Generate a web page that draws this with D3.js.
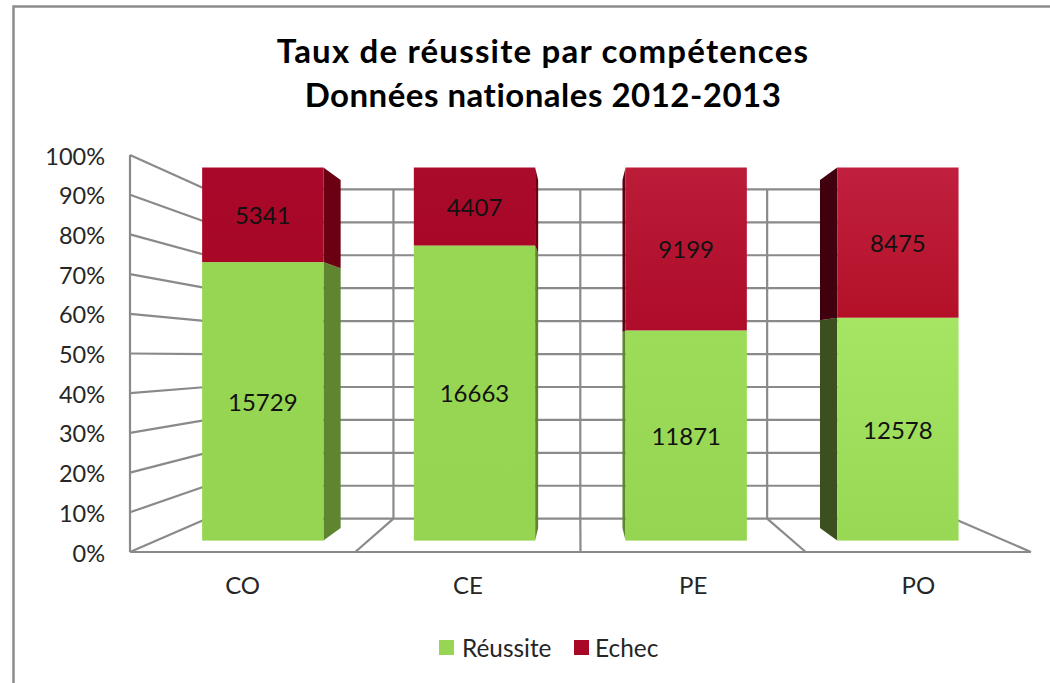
<!DOCTYPE html>
<html>
<head>
<meta charset="utf-8">
<script src="https://cdn.jsdelivr.net/npm/d3@7/dist/d3.min.js"></script>
<style>
  html, body { margin: 0; padding: 0; background: #fff; }
  svg { display: block; }
  text { font-family: Lato, "Noto Sans", sans-serif; }
</style>
</head>
<body>
<div id="chart"></div>
<script>
const categories = ["CO", "CE", "PE", "PO"];
const reussite = [15729, 16663, 11871, 12578];
const echec = [5341, 4407, 9199, 8475];
const seriesNames = ["Réussite", "Echec"];
const titleLines = ["Taux de réussite par compétences", "Données nationales 2012-2013"];
const yTicks = [0, 0.1, 0.2, 0.3, 0.4, 0.5, 0.6, 0.7, 0.8, 0.9, 1];

const width = 1050, height = 683;
const gridColor = "#8a8a8a";

// fake 3d: everything is placed on the back wall, then scaled around the vanishing point
const vanishX = 580, vanishY = 354;
const barFront = 1.133, barBack = 1.057;

function project(x, y, s) {
  return [vanishX + (x - vanishX) * s, vanishY + (y - vanishY) * s];
}

const wallX = d3.scaleBand(categories, [206.6, 954]).paddingInner(0.427).paddingOuter(0.2135);
const wallY = d3.scaleLinear([0, 1], [518.7, 189.4]);
const frontX = d3.scaleBand(categories, [130, 1031]);
const frontY = d3.scaleLinear([0, 1], [552, 155]);

const rows = categories.map((c, i) => ({ category: c, "Réussite": reussite[i], "Echec": echec[i] }));
const stacked = d3.stack().keys(seriesNames).offset(d3.stackOffsetExpand)(rows);

const barColors = {
  "Réussite": { legend: "#97d653", side: ["#5f8530", "#5f8530", "#5f8530", "#3b4f1f"],
    top: ["#97d653", "#98d754", "#9bdc58", "#a5e563"], bottom: ["#96d552", "#96d552", "#96d552", "#98d855"] },
  "Echec": { legend: "#a80826", side: ["#6b0012", "#6b0012", "#5e0010", "#40000e"],
    top: ["#a9082a", "#ab0b2b", "#bb1c38", "#c0203e"], bottom: ["#a80826", "#a80826", "#ae0c2a", "#b41129"] }
};

const svg = d3.select("#chart").append("svg")
  .attr("width", width)
  .attr("height", height);

// outer frame, only the left and top edges are in the picture
svg.append("path")
  .attr("d", "M13.5,683V6.5H1050")
  .attr("fill", "none")
  .attr("stroke", "#8c8c8c")
  .attr("stroke-width", 2.5);

const grid = svg.append("g")
  .attr("fill", "none")
  .attr("stroke", gridColor)
  .attr("stroke-width", 2.2);

const wallLeft = wallX.range()[0], wallRight = wallX.range()[1];

yTicks.forEach(t => {
  grid.append("line")
    .attr("x1", wallLeft).attr("x2", wallRight)
    .attr("y1", wallY(t)).attr("y2", wallY(t));
  grid.append("line")
    .attr("x1", frontX.range()[0]).attr("x2", wallLeft)
    .attr("y1", frontY(t)).attr("y2", wallY(t));
});

grid.append("line")
  .attr("x1", frontX.range()[0]).attr("x2", frontX.range()[0])
  .attr("y1", frontY(1)).attr("y2", frontY(0));
grid.append("line")
  .attr("x1", frontX.range()[0]).attr("x2", frontX.range()[1])
  .attr("y1", frontY(0)).attr("y2", frontY(0));
grid.append("line")
  .attr("x1", wallRight).attr("x2", frontX.range()[1])
  .attr("y1", wallY(0)).attr("y2", frontY(0));

categories.slice(1).forEach(c => {
  const xb = wallX(c) - wallX.step() * 0.2135;
  const xf = frontX(c);
  grid.append("line")
    .attr("x1", xb).attr("x2", xb)
    .attr("y1", wallY(1)).attr("y2", wallY(0));
  grid.append("line")
    .attr("x1", xb).attr("x2", xf)
    .attr("y1", wallY(0)).attr("y2", frontY(0));
});

const defs = svg.append("defs");

stacked.forEach(layer => {
  const colors = barColors[layer.key];
  layer.forEach((d, i) => {
    const c = categories[i];
    const left = wallX(c), right = left + wallX.bandwidth();
    const y0 = wallY(d[0]), y1 = wallY(d[1]);

    // side face: the one turned towards the vanishing point
    const sideX = right < vanishX ? right : left;
    const side = [
      project(sideX, y0, barFront), project(sideX, y1, barFront),
      project(sideX, y1, barBack), project(sideX, y0, barBack)
    ];
    svg.append("path")
      .attr("d", d3.line()(side) + "Z")
      .attr("fill", colors.side[i]);

    const gradId = "grad-" + layer.index + "-" + i;
    const grad = defs.append("linearGradient")
      .attr("id", gradId)
      .attr("x1", 0).attr("x2", 0).attr("y1", 0).attr("y2", 1);
    grad.append("stop").attr("offset", "0%").attr("stop-color", colors.top[i]);
    grad.append("stop").attr("offset", "100%").attr("stop-color", colors.bottom[i]);

    const p0 = project(left, y1, barFront);
    const p1 = project(right, y0, barFront);
    svg.append("rect")
      .attr("x", p0[0]).attr("y", p0[1])
      .attr("width", p1[0] - p0[0]).attr("height", p1[1] - p0[1])
      .attr("fill", "url(#" + gradId + ")");

    svg.append("text")
      .attr("x", (p0[0] + p1[0]) / 2)
      .attr("y", (p0[1] + p1[1]) / 2 + 1)
      .attr("dy", "0.35em")
      .attr("text-anchor", "middle")
      .attr("font-size", 24)
      .attr("fill", "#111")
      .text(d.data[layer.key]);
  });
});

// y axis labels
const yAxis = svg.append("g")
  .attr("transform", "translate(105,1.5)")
  .call(d3.axisLeft(frontY).tickValues(yTicks).tickFormat(d3.format(".0%")).tickSize(0).tickPadding(0));
yAxis.select(".domain").remove();
yAxis.selectAll("text")
  .attr("font-size", 23.5)
  .attr("fill", "#262626")
  .style("font-family", "Lato, sans-serif");

// category labels
const xAxis = svg.append("g")
  .attr("transform", "translate(0,577)")
  .call(d3.axisBottom(frontX).tickSize(0).tickPadding(0));
xAxis.select(".domain").remove();
xAxis.selectAll("text")
  .attr("font-size", 24)
  .attr("fill", "#262626")
  .style("font-family", "Lato, sans-serif");

// title, stretched a little to fill the width of the original hand style font
const titleSpacing = [1.2, 0.5];
svg.append("g").selectAll("text")
  .data(titleLines)
  .enter().append("text")
  .attr("x", 543)
  .attr("y", (d, i) => 63 + i * 43.5)
  .attr("text-anchor", "middle")
  .attr("font-size", 33)
  .attr("font-weight", 700)
  .attr("letter-spacing", (d, i) => titleSpacing[i])
  .attr("fill", "#000")
  .text(d => d);

// legend
const legendX = [439, 574];
const legend = svg.append("g").selectAll("g")
  .data(seriesNames)
  .enter().append("g")
  .attr("transform", (d, i) => "translate(" + legendX[i] + ",640)");
legend.append("rect")
  .attr("width", 15).attr("height", 15)
  .attr("fill", d => barColors[d].legend);
legend.append("text")
  .attr("x", (d, i) => i === 0 ? 23 : 21)
  .attr("y", 8)
  .attr("dy", "0.35em")
  .attr("font-size", 24.4)
  .attr("fill", "#262626")
  .text(d => d);
</script>
</body>
</html>
